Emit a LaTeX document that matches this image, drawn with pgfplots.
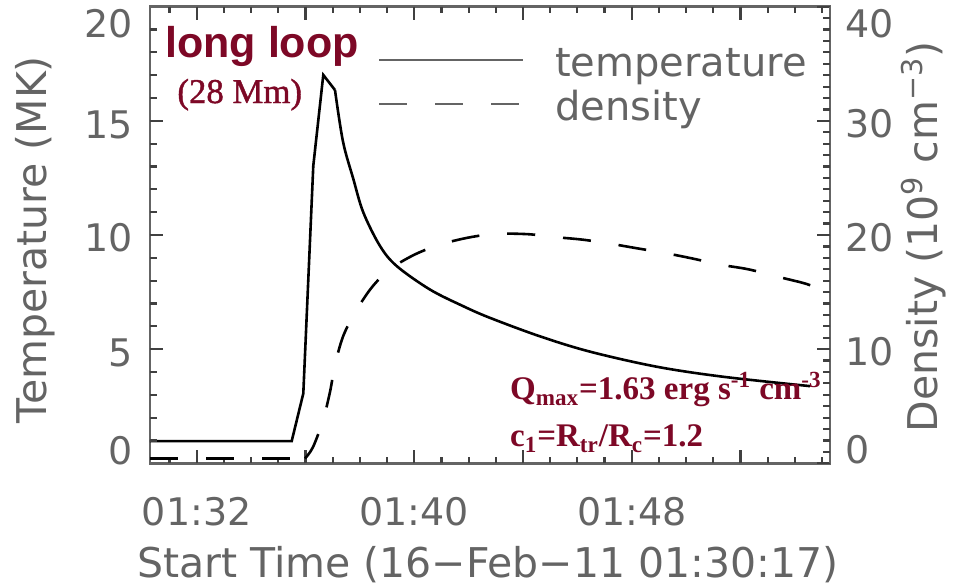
\documentclass[border=0pt]{standalone}
\usepackage{pgfplots}
\pgfplotsset{compat=1.18}
\usepackage{fontspec}
\setmainfont{DejaVu Sans}
\newfontfamily\arialfont{Liberation Sans}
\newfontfamily\timesfont{Liberation Serif}
\newfontfamily\timesheavy{Liberation Serif}[FakeBold=1.2]

\definecolor{idlgray}{RGB}{100,100,100}
\definecolor{loopred}{RGB}{125,8,38}

% raise a tick label without changing its box
\newcommand\lift[2]{\raisebox{#1}[\height][\depth]{#2}}

% minutes after 01:30:00; rise part (straight segments)
\pgfplotstableread{
t T
0.283 0.97
5.494 0.97
5.921 3.06
6.288 13.03
6.656 17.01
7.086 16.35
}\temprise

% decay part (smooth)
\pgfplotstableread{
t T
7.086 16.35
7.381 14.09
7.759 12.46
8.127 10.99
8.741 9.52
9.356 8.64
10.580 7.61
11.805 6.88
12.787 6.37
14.626 5.56
16.465 4.89
18.918 4.23
21.367 3.79
24.556 3.38
}\tempdecay

\pgfplotstableread{
t n
0.283 0.42
5.983 0.42
}\densflat

\pgfplotstableread{
t n
5.983 0.42
6.277 1.42
6.645 3.77
6.903 6.26
7.086 8.6
7.381 11.1
7.822 13.2
8.436 15.4
9.109 17.0
10.028 18.3
11.011 19.2
12.052 19.8
13.033 20.1
14.185 20.07
15.104 19.83
16.160 19.6
17.127 19.27
18.182 18.84
19.150 18.45
20.253 17.93
21.173 17.43
22.276 17.0
23.269 16.4
24.299 15.8
24.667 15.5
}\densrise

\tikzset{tickpen/.style={draw=black!75, line width=1.1pt}}

\pgfplotsset{
  idlaxis/.style={
    scale only axis, width=340pt, height=228.3pt,
    at={(0,0)}, anchor=south west,
    xmin=0.283, xmax=25.29,
    axis line style={idlgray, line width=1.3pt},
    tick align=inside,
    tick style={black!75, line width=1.1pt},
    major tick length=6.5pt, minor tick length=3.5pt,
    tick label style={font=\fontsize{19}{19}\selectfont, text=idlgray},
    label style={font=\fontsize{20.5}{20.5}\selectfont, text=idlgray},
  },
}

\begin{document}
\begin{tikzpicture}

\begin{axis}[idlaxis,
  ymin=0, ymax=20,
  xtick={2,6,10,14,18,22},
  xticklabels={01:32,,01:40,,01:48,},
  ytick={0,5,10,15,20},
  yticklabels={\lift{6.1pt}{0},\lift{-2pt}{5},\lift{-1.5pt}{10},\lift{-2pt}{15},\lift{-8.4pt}{20}},
  ytick pos=left,
  xticklabel style={anchor=base, inner sep=0pt, yshift=-31pt},
  yticklabel style={anchor=east, inner sep=0pt, xshift=-8.5pt},
  xlabel={Start Time (16−Feb−11 01:30:17)},
  xlabel style={at={(axis description cs:0.497,-0.25)}, anchor=base},
  ylabel={Temperature (MK)},
  ylabel style={at={(axis description cs:-0.169,0.49)}, anchor=center},
  % inward tick marks, drawn outside the clipped plot area
  extra description/.code={
    \foreach \t in {1,...,25}{
      \pgfmathsetmacro\rx{(\t-0.283)/25.007}
      \draw[tickpen] (axis description cs:\rx,0) -- ++(0pt,3pt);
      \draw[tickpen] (axis description cs:\rx,1) -- ++(0pt,-3pt);
    }
    \foreach \t in {2,6,...,22}{
      \pgfmathsetmacro\rx{(\t-0.283)/25.007}
      \draw[tickpen] (axis description cs:\rx,0) -- ++(0pt,5pt);
      \draw[tickpen] (axis description cs:\rx,1) -- ++(0pt,-5pt);
    }
    \foreach \v in {1,...,19}{
      \pgfmathsetmacro\ry{\v/20}
      \draw[tickpen] (axis description cs:0,\ry) -- ++(3.5pt,0pt);
    }
    \foreach \v in {5,10,15}{
      \pgfmathsetmacro\ry{\v/20}
      \draw[tickpen] (axis description cs:0,\ry) -- ++(6.5pt,0pt);
    }
  },
]
\addplot[black, line width=1.3pt, forget plot] table[x=t, y=T] {\temprise};
\addplot[black, line width=1.3pt, smooth, tension=0.55, forget plot] table[x=t, y=T] {\tempdecay};
\end{axis}

\begin{axis}[idlaxis,
  ymin=0, ymax=40,
  axis x line=none, axis y line*=right,
  ytick={0,10,20,30,40},
  yticklabels={\lift{6.6pt}{0},\lift{-1.5pt}{10},\lift{-1.5pt}{20},\lift{-1.5pt}{30},\lift{-8.4pt}{40}},
  yticklabel style={anchor=west, inner sep=0pt, xshift=7.5pt},
  ylabel={Density (10\textsuperscript{9} cm\textsuperscript{−3})},
  ylabel style={at={(axis description cs:1.137,0.496)}, anchor=center},
  legend style={draw=none, fill=none, inner sep=0pt,
    at={(axis description cs:0.335,0.9125)}, anchor=north west,
    font=\fontsize{20}{20}\selectfont, text=idlgray,
    row sep=3.5pt,
    nodes={inner sep=0pt, text height=14.5pt, text depth=4pt},
    /tikz/every odd column/.append style={column sep=15.5pt}},
  legend cell align=left,
  legend image code/.code={\draw[#1] (0pt,3pt) -- (72pt,3pt);},
  extra description/.code={
    \foreach \v in {1,...,39}{
      \pgfmathsetmacro\ry{\v/40}
      \draw[tickpen] (axis description cs:1,\ry) -- ++(-3.5pt,0pt);
    }
    \foreach \v in {10,20,30}{
      \pgfmathsetmacro\ry{\v/40}
      \draw[tickpen] (axis description cs:1,\ry) -- ++(-6.5pt,0pt);
    }
  },
]
\addlegendimage{idlgray, line width=1pt}
\addlegendentry{temperature}
\addlegendimage{idlgray, line width=1pt, dash pattern=on 14pt off 14pt}
\addlegendentry{density}
\addplot[black, line width=1.3pt, dash pattern=on 14pt off 14pt, forget plot] table[x=t, y=n] {\densflat};
\addplot[black, line width=1.3pt, dash pattern=on 14pt off 14pt, smooth, tension=0.55, forget plot] table[x=t, y=n] {\densrise};

\node[anchor=base west, inner sep=0pt, text=loopred,
  font=\arialfont\bfseries\fontsize{21.5}{21.5}\selectfont]
  at (axis description cs:0.022,0.888) {long loop};
\node[anchor=base, inner sep=0pt, text=loopred,
  font=\timesheavy\fontsize{17.4}{17.4}\selectfont]
  at (axis description cs:0.132,0.789) {(28 Mm)};
\node[anchor=base west, inner sep=0pt, text=loopred,
  font=\timesfont\bfseries\fontsize{16.5}{16.5}\selectfont]
  at (axis description cs:0.529,0.139)
  {Q\textsubscript{max}=1.63 erg s\textsuperscript{-1} cm\textsuperscript{-3}};
\node[anchor=base west, inner sep=0pt, text=loopred,
  font=\timesfont\bfseries\fontsize{16.5}{16.5}\selectfont]
  at (axis description cs:0.529,0.036)
  {c\textsubscript{1}=R\textsubscript{tr}/R\textsubscript{c}=1.2};
\end{axis}

\pgfresetboundingbox
\path[use as bounding box] (-75pt,-62.35pt) rectangle (407.5pt,231.65pt);
\end{tikzpicture}
\end{document}
